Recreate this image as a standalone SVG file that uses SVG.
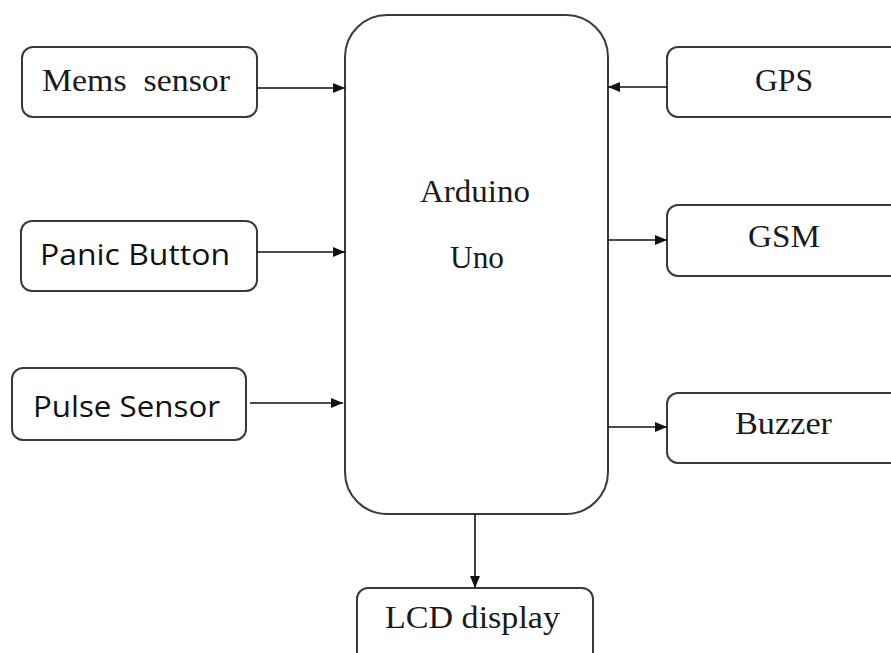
<svg xmlns="http://www.w3.org/2000/svg" width="891" height="653" viewBox="0 0 891 653">
<style>
.box{fill:#fff;stroke:#3a3a3a;stroke-width:2}
.serif{font-family:"Liberation Serif","Times New Roman",serif;fill:#1a1a1a}
.sans{font-family:"Open Sans","Liberation Sans",sans-serif;fill:#111}
.conn{stroke:#111;stroke-width:1.6;fill:none;marker-end:url(#ah)}
</style>
<defs>
<marker id="ah" viewBox="0 0 12 10" refX="12" refY="5" markerWidth="12" markerHeight="10" markerUnits="userSpaceOnUse" orient="auto">
<path d="M0,0 L12,5 L0,10 z" fill="#111"/>
</marker>
</defs>
<rect width="891" height="653" fill="#fff"/>
<g id="arduino">
<rect class="box" x="345" y="15" width="263" height="499" rx="42" ry="42"/>
<text class="serif" x="420" y="202" font-size="31" textLength="110" lengthAdjust="spacingAndGlyphs">Arduino</text>
<text class="serif" x="450" y="268" font-size="31" textLength="54" lengthAdjust="spacingAndGlyphs">Uno</text>
</g>
<g id="mems">
<rect class="box" x="22" y="47" width="235" height="70" rx="11" ry="11"/>
<text class="serif" x="42" y="91" font-size="31" xml:space="preserve" textLength="188" lengthAdjust="spacingAndGlyphs">Mems  sensor</text>
</g>
<g id="panic">
<rect class="box" x="21" y="221" width="236" height="70" rx="11" ry="11"/>
<text class="sans" x="40" y="265" font-size="29" textLength="190" lengthAdjust="spacingAndGlyphs">Panic Button</text>
</g>
<g id="pulse">
<rect class="box" x="12" y="368" width="234" height="72" rx="11" ry="11"/>
<text class="sans" x="33" y="417" font-size="29" textLength="187" lengthAdjust="spacingAndGlyphs">Pulse Sensor</text>
</g>
<g id="gps">
<rect class="box" x="667" y="47" width="240" height="70" rx="11" ry="11"/>
<text class="serif" x="755" y="91" font-size="31" textLength="58" lengthAdjust="spacingAndGlyphs">GPS</text>
</g>
<g id="gsm">
<rect class="box" x="667" y="205" width="240" height="71" rx="11" ry="11"/>
<text class="serif" x="748" y="247" font-size="31" textLength="72" lengthAdjust="spacingAndGlyphs">GSM</text>
</g>
<g id="buzzer">
<rect class="box" x="667" y="393" width="240" height="70" rx="11" ry="11"/>
<text class="serif" x="735" y="434" font-size="31" textLength="97" lengthAdjust="spacingAndGlyphs">Buzzer</text>
</g>
<g id="lcd">
<rect class="box" x="357" y="588" width="236" height="80" rx="11" ry="11"/>
<text class="serif" x="385" y="628" font-size="31" textLength="175" lengthAdjust="spacingAndGlyphs">LCD display</text>
</g>
<g id="connectors">
<line class="conn" x1="257" y1="88" x2="345" y2="88"/>
<line class="conn" x1="257" y1="252" x2="345" y2="252"/>
<line class="conn" x1="250" y1="403" x2="343" y2="403"/>
<line class="conn" x1="667" y1="87" x2="608" y2="87"/>
<line class="conn" x1="608" y1="240" x2="667" y2="240"/>
<line class="conn" x1="608" y1="427" x2="667" y2="427"/>
<line class="conn" x1="475" y1="514" x2="475" y2="588"/>
</g>
</svg>
